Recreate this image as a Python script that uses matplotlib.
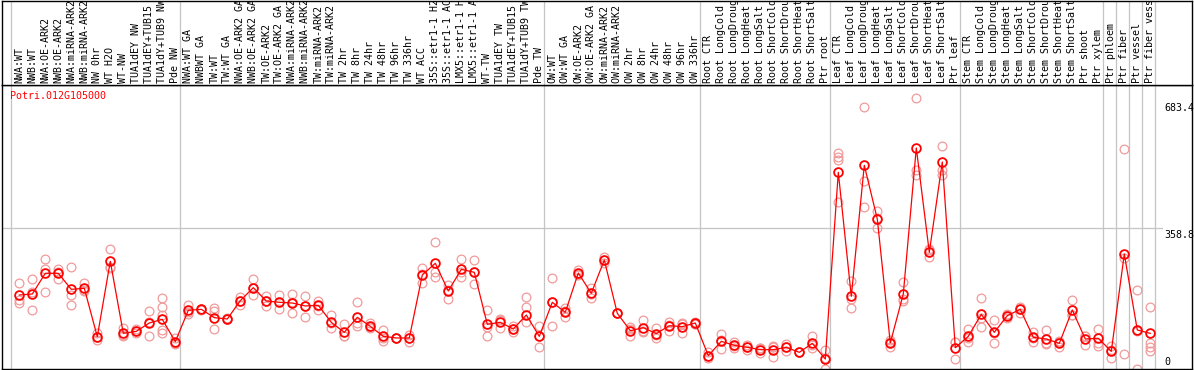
import matplotlib
matplotlib.use("Agg")
import matplotlib.pyplot as plt
import numpy as np

gene = "Potri.012G105000"

labels = [
    "NWA:WT", "NWB:WT", "NWA:OE-ARK2", "NWB:OE-ARK2", "NWA:miRNA-ARK2", "NWB:miRNA-ARK2",
    "NW 0hr", "WT H2O", "WT-NW", "TUA1dEY NW", "TUA1dEY+TUB15 NW", "TUA1dY+TUB9 NW", "Pde NW",
    "NWA:WT GA", "NWBWT GA", "TW:WT", "TW:WT GA", "NWA:OE-ARK2 GA", "NWB:OE-ARK2 GA",
    "TW:OE-ARK2", "TW:OE-ARK2 GA", "NWA:miRNA-ARK2 GA", "NWB:miRNA-ARK2 GA", "TW:miRNA-ARK2",
    "TW:miRNA-ARK2 GA", "TW 2hr", "TW 8hr", "TW 24hr", "TW 48hr", "TW 96hr", "TW 336hr",
    "WT ACC", "35S::etr1-1 H2O", "35S::etr1-1 ACC", "LMX5::etr1-1 H2O", "LMX5::etr1-1 ACC",
    "WT-TW", "TUA1dEY TW", "TUA1dEY+TUB15 TW", "TUA1dY+TUB9 TW", "Pde TW",
    "OW:WT", "OW:WT GA", "OW:OE-ARK2", "OW:OE-ARK2 GA", "OW:miRNA-ARK2", "OW:miRNA-ARK2 GA",
    "OW 2hr", "OW 8hr", "OW 24hr", "OW 48hr", "OW 96hr", "OW 336hr",
    "Root CTR", "Root LongCold", "Root LongDrought", "Root LongHeat", "Root LongSalt",
    "Root ShortCold", "Root ShortDrought", "Root ShortHeat", "Root ShortSalt", "Ptr root",
    "Leaf CTR", "Leaf LongCold", "Leaf LongDrought", "Leaf LongHeat", "Leaf LongSalt",
    "Leaf ShortCold", "Leaf ShortDrought", "Leaf ShortHeat", "Leaf ShortSalt", "Ptr leaf",
    "Stem CTR", "Stem LongCold", "Stem LongDrought", "Stem LongHeat", "Stem LongSalt",
    "Stem ShortCold", "Stem ShortDrought", "Stem ShortHeat", "Stem ShortSalt", "Ptr shoot",
    "Ptr xylem", "Ptr phloem", "Ptr fiber", "Ptr vessel", "Ptr fiber vessel",
]

means = [
    188.1, 190.7, 243.6, 243.6, 202.6, 205.2, 81.5, 274.3, 90.0, 95.1,
    116.5, 125.8, 68.7, 148.9, 151.4, 130.1, 126.7, 173.6, 206.9, 172.8,
    169.4, 167.6, 160.0, 161.7, 118.2, 92.6, 131.0, 107.9, 82.3, 78.1,
    78.1, 239.3, 269.2, 198.4, 253.8, 246.1, 113.0, 118.2, 101.1, 136.9,
    82.3, 169.4, 143.8, 244.4, 192.4, 277.7, 141.2, 96.8, 104.5, 89.2,
    109.6, 107.1, 116.5, 32.8, 69.5, 59.3, 54.2, 48.2, 48.2, 54.2,
    41.4, 64.4, 24.3, 502.1, 184.7, 520.0, 382.6, 65.3, 190.7, 564.4,
    297.3, 528.5, 53.3, 82.3, 138.6, 92.6, 135.2, 151.4, 79.8, 75.5,
    64.4, 149.7, 75.5, 77.2, 43.9, 293.1, 98.5, 90.0,
]

replicates = [
    [220, 175, 167], [228, 197, 150], [280, 254, 196], [255, 229, 247], [260, 189, 163],
    [218, 198, 200], [92, 73, 80], [306, 261, 256], [103, 82, 85], [100, 95, 90],
    [147, 84, 118], [180, 158, 137, 99, 90], [77, 66, 63], [162, 140, 145], [150, 153, 151],
    [154, 146, 101], [126, 128, 126], [184, 163, 174], [228, 188, 205], [186, 159, 173],
    [188, 151, 169], [191, 141, 171], [186, 133, 161], [174, 150, 161], [136, 103, 116],
    [113, 82, 83], [169, 116, 110], [116, 103, 105], [99, 77, 71], [78, 79, 77],
    [86, 69, 79], [256, 220, 242], [323, 248, 233], [214, 179, 202], [280, 235, 246],
    [277, 215, 246], [150, 82, 107], [124, 104, 126], [109, 94, 100], [182, 158, 118],
    [109, 54, 84], [231, 108, 169], [154, 131, 146], [252, 239, 242], [205, 181, 191],
    [286, 269, 278], [141, 141, 142], [105, 83, 102], [124, 94, 96], [103, 78, 87],
    [120, 97, 112], [117, 90, 114], [120, 115, 115], [41, 26, 31], [88, 49, 72],
    [69, 52, 57], [60, 47, 55], [53, 39, 52], [56, 30, 58], [63, 46, 54],
    [41, 42, 41], [82, 52, 60], [47, 0, 26], [551, 542, 534, 425], [224, 177, 154],
    [669, 480, 413], [404, 359, 385], [73, 54, 68], [221, 174, 177], [692, 508, 495],
    [305, 285, 302], [570, 508, 495], [67, 24, 69], [101, 67, 79], [180, 107, 129],
    [124, 64, 90], [128, 138, 140], [158, 143, 153], [93, 69, 78], [99, 63, 65],
    [71, 54, 68], [175, 137, 138], [83, 59, 84], [101, 58, 64], [58, 26, 48],
    [562, 282, 37], [201, 0, 95], [157, 64, 54, 46],
]

group_starts = [0, 13, 41, 53, 63, 73, 84, 85, 86, 87, 88]
tick_values = [683.4, 358.8, 0]
tick_labels = ["683.4", "358.8", "0"]

# ---- geometry (pixels) ----
W, H = 1194, 370
DPI = 100
x0_px, step_px = 19.3, 13.0
left_px, right_px = 1.5, 1191.5
head_top_px, head_bot_px = 0.5, 85.0
plot_bot_px = 368.5
k_px = (plot_bot_px - 228.3) / 358.8  # px per unit

font = dict(family="DejaVu Sans Mono", size=7.2)

fig = plt.figure(figsize=(W / DPI, H / DPI), dpi=DPI)
fig.patch.set_facecolor("white")

xl = ((left_px - x0_px) / step_px, (right_px - x0_px) / step_px)

def fig_rect(l, t, r, b):
    return [l / W, (H - b) / H, (r - l) / W, (b - t) / H]

ax = fig.add_axes(fig_rect(left_px, head_bot_px, right_px, plot_bot_px))
hx = fig.add_axes(fig_rect(left_px, head_top_px, right_px, head_bot_px))

for a in (ax, hx):
    a.set_xlim(*xl)
    a.set_xticks([])
    a.set_yticks([])
    for s in a.spines.values():
        s.set_color("black")
        s.set_linewidth(1.0)
    for g in group_starts:
        a.axvline(g - 8 / step_px, color="#c4c4c4", lw=0.9, zorder=0)

ymax = (plot_bot_px - head_bot_px) / k_px
ax.set_ylim(0, ymax)
hx.set_ylim(0, 1)

ax.axhline(358.8, xmin=0, xmax=(1162 - left_px) / (right_px - left_px), color="#c4c4c4", lw=0.9, zorder=0)

idx = np.arange(len(means))
for i, reps in enumerate(replicates):
    ax.plot([i] * len(reps), reps, linestyle="none", marker="o", ms=6.3,
            mfc="none", mec="#f09a9a", mew=0.9, zorder=2)
ax.plot(idx, means, color="#ff0000", lw=0.9, zorder=3)
ax.plot(idx, means, linestyle="none", marker="o", ms=6.3, mfc="none",
        mec="#ff0000", mew=1.3, zorder=4)

# header labels
for i, lab in enumerate(labels):
    hx.text(i, (head_bot_px - 83.0) / (head_bot_px - head_top_px), lab, rotation=90,
            ha="center", va="bottom", color="black", clip_on=True, **font)

# gene name
ax.text((10 - left_px) / (right_px - left_px), 1 - (96 - head_bot_px) / (plot_bot_px - head_bot_px),
        gene, transform=ax.transAxes, ha="left", va="center", color="#ff0000", **font)

# value labels on the right
tx = (1164 - left_px) / (right_px - left_px)
for v, t in zip(tick_values, tick_labels):
    if v == 0:
        ax.text(tx, 0.005, t, transform=ax.transAxes, ha="left", va="bottom", color="black", **font)
    else:
        ax.text(tx, v - 1.5 / k_px, t, transform=ax.get_yaxis_transform(), ha="left", va="top",
                color="black", **font)

fig.savefig("out.png", dpi=DPI)
